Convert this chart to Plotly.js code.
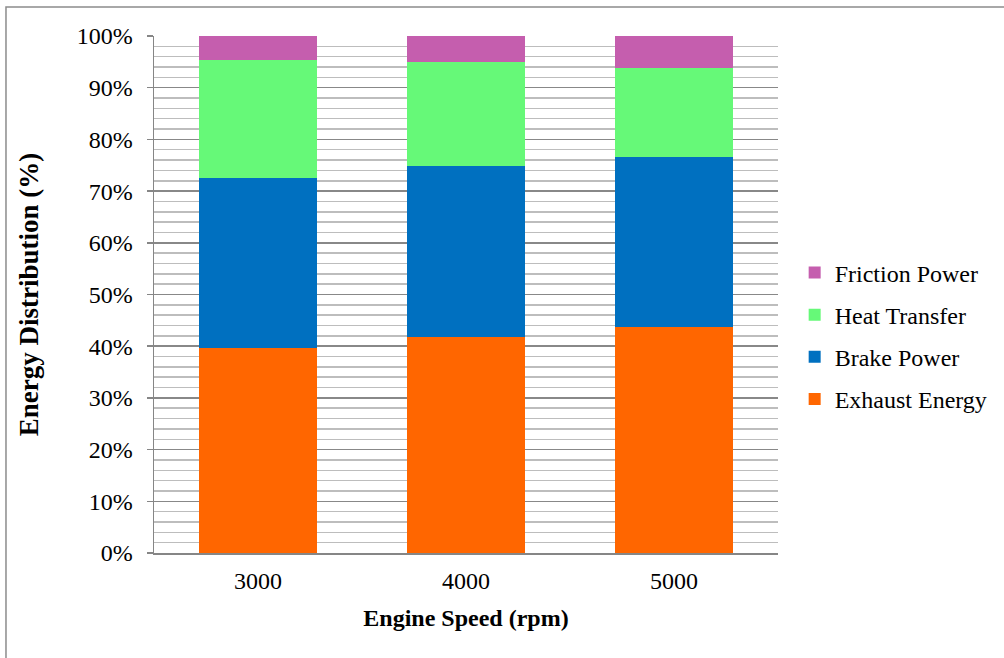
<!DOCTYPE html>
<html>
<head>
<meta charset="utf-8">
<script src="https://cdn.plot.ly/plotly-3.0.1.min.js"></script>
<style>html,body{margin:0;padding:0;background:#fff;}#chart{width:1004px;height:658px;}</style>
</head>
<body>
<div id="chart"></div>
<script>
const categories = ["3000", "4000", "5000"];
const exhaustEnergy = [39.7, 41.7, 43.8];
const brakePower = [32.85, 33.2, 32.75];
const heatTransfer = [22.8, 20.0, 17.35];
const frictionPower = [4.65, 5.1, 6.1];
const seriesNames = ["Exhaust Energy", "Brake Power", "Heat Transfer", "Friction Power"];
const seriesColors = ["#FF6600", "#0070C0", "#66F978", "#C55EAE"];
const seriesValues = [exhaustEnergy, brakePower, heatTransfer, frictionPower];

const font = "Liberation Serif, Times New Roman, serif";

const traces = seriesValues.map((vals, i) => ({
  type: "bar",
  x: categories,
  y: vals,
  name: seriesNames[i],
  legendgroup: "g" + i,
  legendrank: 1000 - i,
  marker: {color: seriesColors[i], line: {width: 0}},
  hoverinfo: "none"
}));

const layout = {
  width: 1004,
  height: 658,
  barmode: "stack",
  bargap: 0.43,
  paper_bgcolor: "#ffffff",
  plot_bgcolor: "#ffffff",
  margin: {l: 154, r: 226, t: 36, b: 105},
  font: {family: font, size: 24, color: "#000"},
  showlegend: true,
  legend: {
    traceorder: "grouped",
    tracegroupgap: 8,
    xref: "container",
    x: 0.7915, xanchor: "left",
    yref: "paper",
    y: 0.42, yanchor: "middle",
    font: {family: font, size: 24, color: "#000"},
    bgcolor: "rgba(0,0,0,0)"
  },
  xaxis: {
    type: "category",
    showline: true,
    linecolor: "#868686",
    linewidth: 1.5,
    ticks: "",
    showgrid: false,
    zeroline: false,
    ticklabelstandoff: 6,
    tickfont: {family: font, size: 24, color: "#000"},
    title: {text: "<b>Engine Speed (rpm)</b>", font: {family: font, size: 24, color: "#000"}, standoff: 16}
  },
  yaxis: {
    range: [0, 100],
    dtick: 10,
    ticksuffix: "%",
    showline: true,
    linecolor: "#868686",
    linewidth: 1.5,
    ticks: "outside",
    ticklen: 6,
    tickcolor: "#868686",
    tickwidth: 1.5,
    ticklabelstandoff: 9,
    showgrid: true,
    gridcolor: "#888888",
    gridwidth: 1.5,
    zeroline: false,
    minor: {dtick: 2, showgrid: true, gridcolor: "#bdbdbd", gridwidth: 1.5, ticks: ""},
    tickfont: {family: font, size: 24, color: "#000"},
    title: {text: "<b>Energy Distribution (%)</b>", font: {family: font, size: 27, color: "#000"}, standoff: 30}
  },
  shapes: [{
    type: "rect", xref: "paper", yref: "paper",
    x0: -0.2372, x1: 1.38, y0: -0.23, y1: 1.0561,
    line: {color: "#8c8c8c", width: 1.5},
    fillcolor: "rgba(0,0,0,0)",
    layer: "below"
  }]
};

Plotly.newPlot("chart", traces, layout, {displayModeBar: false, staticPlot: true});
</script>
</body>
</html>
